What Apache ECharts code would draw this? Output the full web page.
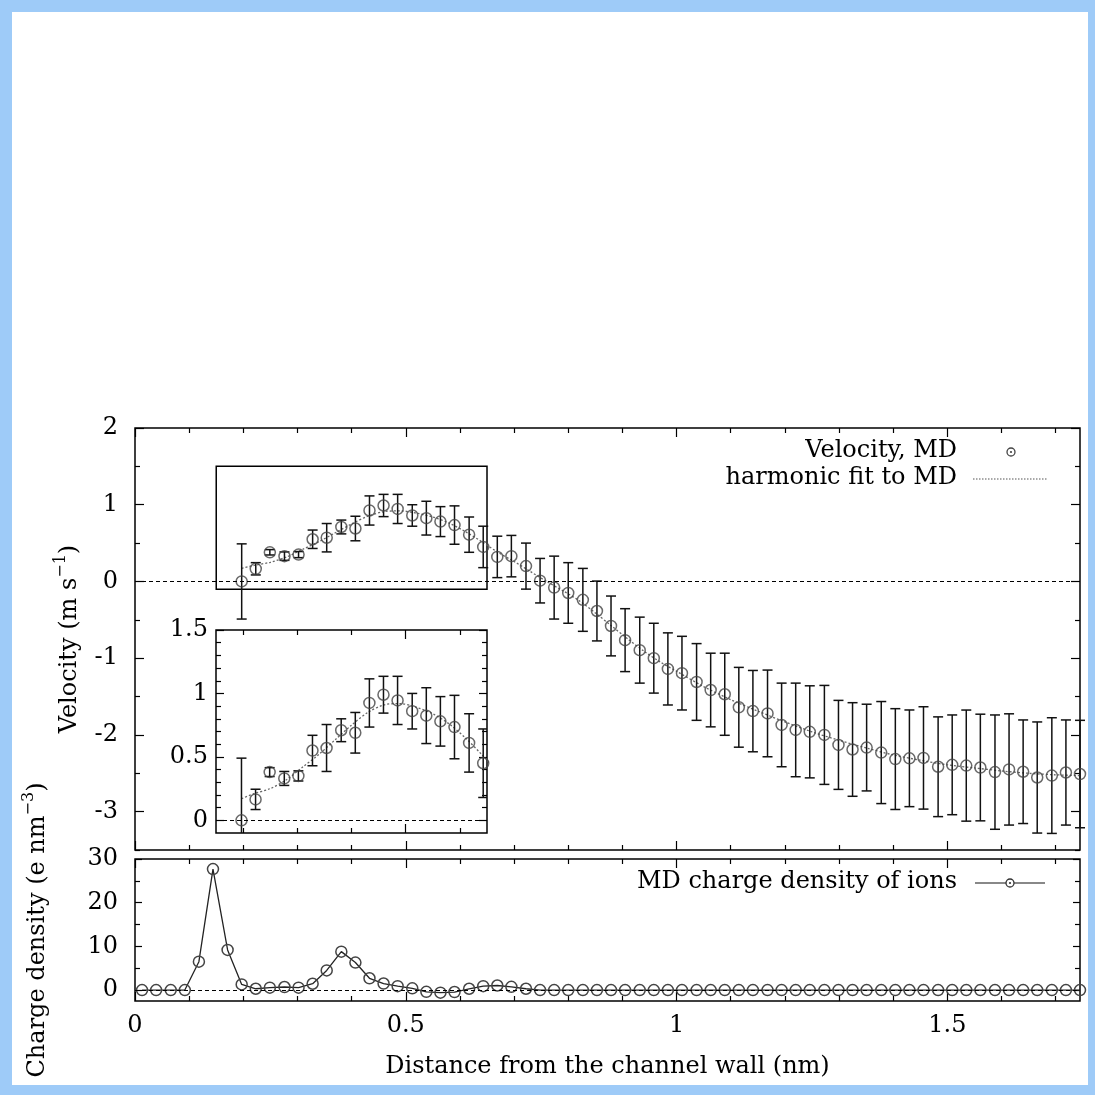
<!DOCTYPE html>
<html>
<head>
<meta charset="utf-8">
<script src="https://cdn.jsdelivr.net/npm/echarts@6/dist/echarts.min.js"></script>
<style>
  html, body { margin: 0; padding: 0; background: #9ecbf8; }
  #panel { position: absolute; left: 12px; top: 12px; width: 1076px; height: 1073px; background: #fff; }
  #chart { position: absolute; left: 0; top: 0; width: 1095px; height: 1095px; }
</style>
</head>
<body>
<div id="panel"></div>
<div id="chart"></div>
<script>
// bin centres (nm) shared by both panels
var binX = [0.013, 0.039, 0.066, 0.092, 0.118, 0.144, 0.171, 0.197, 0.223, 0.249,
  0.276, 0.302, 0.328, 0.354, 0.381, 0.407, 0.433, 0.459, 0.485, 0.512,
  0.538, 0.564, 0.590, 0.617, 0.643, 0.669, 0.695, 0.722, 0.748, 0.774,
  0.800, 0.827, 0.853, 0.879, 0.905, 0.932, 0.958, 0.984, 1.010, 1.037,
  1.063, 1.089, 1.115, 1.141, 1.168, 1.194, 1.220, 1.246, 1.273, 1.299,
  1.325, 1.351, 1.378, 1.404, 1.430, 1.456, 1.483, 1.509, 1.535, 1.561,
  1.588, 1.614, 1.640, 1.666, 1.693, 1.719, 1.745]
// velocity starts at bin 7
var velStart = 7
var velocity = [0.00, 0.165, 0.38, 0.33, 0.35, 0.55, 0.57, 0.71, 0.69, 0.925,
  0.99, 0.945, 0.86, 0.825, 0.78, 0.735, 0.61, 0.45, 0.32, 0.33,
  0.20, 0.01, -0.08, -0.15, -0.24, -0.385, -0.58, -0.765, -0.895, -1.0,
  -1.14, -1.195, -1.31, -1.415, -1.47, -1.64, -1.69, -1.72, -1.87, -1.935,
  -1.96, -2.00, -2.13, -2.19, -2.165, -2.23, -2.315, -2.305, -2.30, -2.415,
  -2.39, -2.40, -2.425, -2.485, -2.45, -2.48, -2.555, -2.53, -2.49, -2.51]
var velErr = [0.49, 0.08, 0.035, 0.055, 0.04, 0.12, 0.185, 0.09, 0.16, 0.19,
  0.145, 0.19, 0.14, 0.22, 0.195, 0.25, 0.23, 0.27, 0.27, 0.27,
  0.30, 0.29, 0.41, 0.395, 0.41, 0.39, 0.39, 0.41, 0.43, 0.455,
  0.47, 0.48, 0.50, 0.48, 0.535, 0.52, 0.53, 0.565, 0.545, 0.61,
  0.60, 0.645, 0.58, 0.61, 0.565, 0.665, 0.657, 0.63, 0.667, 0.65,
  0.65, 0.724, 0.695, 0.745, 0.725, 0.675, 0.724, 0.754, 0.685, 0.70]
// harmonic fit curve
var fitX = [0.197, 0.22, 0.25, 0.28, 0.31, 0.34, 0.37, 0.40, 0.43, 0.46,
  0.49, 0.52, 0.55, 0.58, 0.61, 0.64, 0.67, 0.70, 0.73, 0.76,
  0.79, 0.82, 0.85, 0.88, 0.91, 0.94, 0.97, 1.00, 1.05, 1.10,
  1.15, 1.20, 1.25, 1.30, 1.35, 1.40, 1.45, 1.50, 1.55, 1.60,
  1.65, 1.70, 1.745]
var fitY = [0.17, 0.21, 0.25, 0.32, 0.42, 0.52, 0.635, 0.75, 0.85, 0.91,
  0.92, 0.89, 0.84, 0.76, 0.65, 0.52, 0.38, 0.26, 0.13, 0.0,
  -0.12, -0.25, -0.41, -0.58, -0.75, -0.91, -1.05, -1.17, -1.37, -1.54,
  -1.69, -1.83, -1.96, -2.07, -2.17, -2.26, -2.33, -2.39, -2.43, -2.47,
  -2.50, -2.52, -2.53]
// charge density of ions
var charge = [0, 0, 0, 0, 6.5, 27.7, 9.2, 1.3, 0.3, 0.55,
  0.7, 0.55, 1.45, 4.5, 8.8, 6.3, 2.7, 1.5, 0.9, 0.4,
  -0.4, -0.6, -0.45, 0.3, 0.9, 1.05, 0.75, 0.3, 0, 0,
  0, 0, 0, 0, 0, 0, 0, 0, 0, 0,
  0, 0, 0, 0, 0, 0, 0, 0, 0, 0,
  0, 0, 0, 0, 0, 0, 0, 0, 0, 0,
  0, 0, 0, 0, 0, 0, 0]

// axis ranges and ticks
var xRange = [0, 1.745]
var velRange = [-3.5, 2]
var chgRange = [-2.5, 30]
var insetX = [0.15, 0.65]
var insetY = [-0.1, 1.5]
var xMajor = [0, 0.5, 1, 1.5]
var xMinor = [0.1, 0.2, 0.3, 0.4, 0.6, 0.7, 0.8, 0.9, 1.1, 1.2, 1.3, 1.4, 1.6, 1.7]
var velMajor = [-3, -2, -1, 0, 1, 2]
var velMinor = [-3.5, -2.5, -1.5, -0.5, 0.5, 1.5]
var insXMajor = [0.5]
var insXMinor = [0.2, 0.3, 0.4, 0.6]
var insYMajor = [0, 0.5, 1, 1.5]
var insYMinor = [0.1, 0.2, 0.3, 0.4, 0.6, 0.7, 0.8, 0.9, 1.1, 1.2, 1.3, 1.4]
var chgMajor = [0, 10, 20, 30]
var chgMinor = [5, 15, 25]

var FONT = 'DejaVu Serif'
var FSIZE = 24
var chart = echarts.init(document.getElementById('chart'))

function edgeAxis(grid, pos, range, ticks, len, labels, margin) {
  return {
    type: 'value',
    gridIndex: grid,
    position: pos,
    min: range[0],
    max: range[1],
    axisLine: { show: false, onZero: false },
    splitLine: { show: false },
    axisTick: {
      show: true, inside: true, length: len, customValues: ticks,
      lineStyle: { color: '#000', width: 1.2 }
    },
    axisLabel: labels ? {
      show: true, customValues: labels, margin: margin,
      fontFamily: FONT, fontSize: FSIZE, color: '#000',
      formatter: function (v) { return String(v) }
    } : { show: false }
  }
}

var xAxes = [
  edgeAxis(0, 'bottom', xRange, xMajor, 9),
  edgeAxis(0, 'bottom', xRange, xMinor, 5),
  edgeAxis(0, 'top', xRange, xMajor, 9),
  edgeAxis(0, 'top', xRange, xMinor, 5),
  edgeAxis(1, 'bottom', insetX, insXMajor, 9),
  edgeAxis(1, 'bottom', insetX, insXMinor, 5),
  edgeAxis(1, 'top', insetX, insXMajor, 9),
  edgeAxis(1, 'top', insetX, insXMinor, 5),
  edgeAxis(2, 'bottom', xRange, xMajor, 9, xMajor, 13),
  edgeAxis(2, 'bottom', xRange, xMinor, 5),
  edgeAxis(2, 'top', xRange, xMajor, 9),
  edgeAxis(2, 'top', xRange, xMinor, 5)
]
var yAxes = [
  edgeAxis(0, 'left', velRange, velMajor, 9, velMajor, 17),
  edgeAxis(0, 'left', velRange, velMinor, 5),
  edgeAxis(0, 'right', velRange, velMajor, 9),
  edgeAxis(0, 'right', velRange, velMinor, 5),
  edgeAxis(1, 'left', insetY, insYMajor, 8, insYMajor, 8),
  edgeAxis(1, 'left', insetY, insYMinor, 5),
  edgeAxis(1, 'right', insetY, insYMajor, 8),
  edgeAxis(1, 'right', insetY, insYMinor, 5),
  edgeAxis(2, 'left', chgRange, chgMajor, 7, chgMajor, 17),
  edgeAxis(2, 'left', chgRange, chgMinor, 5),
  edgeAxis(2, 'right', chgRange, chgMajor, 7),
  edgeAxis(2, 'right', chgRange, chgMinor, 5)
]

var nameStyle = {
  fontFamily: FONT, fontSize: FSIZE, color: '#000',
  rich: { sup: { fontFamily: FONT, fontSize: 16, color: '#000', padding: [0, 0, 18, 0] } }
}
xAxes[8].name = 'Distance from the channel wall (nm)'
xAxes[8].nameLocation = 'middle'
xAxes[8].nameGap = 54
xAxes[8].nameTextStyle = nameStyle
yAxes[0].name = 'Velocity (m s{sup|\u22121})'
yAxes[0].nameLocation = 'middle'
yAxes[0].nameRotate = 90
yAxes[0].nameGap = 48
yAxes[0].nameTextStyle = nameStyle
yAxes[8].name = 'Charge density (e nm{sup|\u22123})'
yAxes[8].nameLocation = 'middle'
yAxes[8].nameRotate = 90
yAxes[8].nameGap = 80
yAxes[8].nameTextStyle = nameStyle

// build series data from the arrays
var velPts = [], errPts = [], insPts = [], insErr = []
velocity.forEach(function (v, k) {
  var x = binX[velStart + k]
  velPts.push([x, v])
  errPts.push([x, v - velErr[k], v + velErr[k]])
  if (x <= insetX[1]) {
    insPts.push([x, v])
    insErr.push([x, v - velErr[k], v + velErr[k]])
  }
})
var fitPts = fitX.map(function (x, k) { return [x, fitY[k]] })
var chgPts = charge.map(function (c, k) { return [binX[k], c] })

function renderErr(params, api) {
  var x = api.value(0)
  var lo = api.coord([x, api.value(1)])
  var hi = api.coord([x, api.value(2)])
  var w = 5
  var st = { stroke: '#111', lineWidth: 1.5 }
  return {
    type: 'group',
    children: [
      { type: 'line', shape: { x1: lo[0], y1: lo[1], x2: hi[0], y2: hi[1] }, style: st },
      { type: 'line', shape: { x1: lo[0] - w, y1: lo[1], x2: lo[0] + w, y2: lo[1] }, style: st },
      { type: 'line', shape: { x1: hi[0] - w, y1: hi[1], x2: hi[0] + w, y2: hi[1] }, style: st }
    ]
  }
}

var circleStyle = { color: 'rgba(0,0,0,0)', borderColor: '#444', borderWidth: 1.5 }
var zeroLine = {
  silent: true, symbol: 'none', label: { show: false },
  lineStyle: { color: '#000', type: [4, 3], width: 1 },
  data: [{ yAxis: 0 }]
}
var fitStyle = { color: '#666', width: 1.3, type: [2, 2] }
var legendFont = FSIZE + 'px "DejaVu Serif"'

var option = {
  animation: false,
  backgroundColor: 'transparent',
  grid: [
    { left: 135, top: 428, width: 945, height: 422, show: true, borderColor: '#000', borderWidth: 1.5, backgroundColor: 'transparent' },
    { left: 216, top: 630, width: 271, height: 203, show: true, borderColor: '#000', borderWidth: 1.5, backgroundColor: '#fff' },
    { left: 135, top: 859, width: 945, height: 142, show: true, borderColor: '#000', borderWidth: 1.5, backgroundColor: 'transparent' }
  ],
  xAxis: xAxes,
  yAxis: yAxes,
  series: [
    // main velocity panel
    {
      type: 'line', xAxisIndex: 0, yAxisIndex: 0, data: fitPts, smooth: 0.3,
      showSymbol: false, lineStyle: fitStyle, z: 2, silent: true,
      markLine: zeroLine,
      markArea: {
        silent: true,
        itemStyle: { color: 'rgba(0,0,0,0)', borderColor: '#000', borderWidth: 1.5 },
        data: [[{ coord: [insetX[0], insetY[0]] }, { coord: [insetX[1], insetY[1]] }]]
      }
    },
    { type: 'custom', xAxisIndex: 0, yAxisIndex: 0, data: errPts, renderItem: renderErr, clip: false, z: 3, silent: true },
    {
      type: 'scatter', xAxisIndex: 0, yAxisIndex: 0, data: velPts, symbol: 'circle',
      symbolSize: 11, itemStyle: circleStyle, clip: false, z: 4, silent: true
    },
    // inset
    {
      type: 'line', xAxisIndex: 4, yAxisIndex: 4, data: fitPts, smooth: 0.3,
      showSymbol: false, lineStyle: fitStyle, z: 2, silent: true, clip: true,
      markLine: zeroLine
    },
    { type: 'custom', xAxisIndex: 4, yAxisIndex: 4, data: insErr, renderItem: renderErr, clip: true, z: 3, silent: true },
    {
      type: 'scatter', xAxisIndex: 4, yAxisIndex: 4, data: insPts, symbol: 'circle',
      symbolSize: 11, itemStyle: circleStyle, clip: false, z: 4, silent: true
    },
    // charge density
    {
      type: 'line', xAxisIndex: 8, yAxisIndex: 8, data: chgPts,
      symbol: 'circle', symbolSize: 11, showAllSymbol: true,
      itemStyle: circleStyle,
      lineStyle: { color: '#222', width: 1.3 }, clip: false, silent: true, z: 3,
      markLine: zeroLine
    }
  ],
  graphic: [
    { type: 'text', x: 957, y: 451, style: { text: 'Velocity, MD', font: legendFont, fill: '#000', align: 'right', verticalAlign: 'middle' } },
    { type: 'circle', shape: { cx: 1011, cy: 452, r: 4 }, style: { fill: 'none', stroke: '#444', lineWidth: 1.3 } },
    { type: 'circle', shape: { cx: 1011, cy: 452, r: 1.1 }, style: { fill: '#444' } },
    { type: 'text', x: 957, y: 478, style: { text: 'harmonic fit to MD', font: legendFont, fill: '#000', align: 'right', verticalAlign: 'middle' } },
    { type: 'line', shape: { x1: 973, y1: 479, x2: 1047, y2: 479 }, style: { stroke: '#555', lineWidth: 1.2, lineDash: [1.5, 1.5] } },
    { type: 'text', x: 957, y: 882, style: { text: 'MD charge density of ions', font: legendFont, fill: '#000', align: 'right', verticalAlign: 'middle' } },
    { type: 'line', shape: { x1: 975, y1: 883, x2: 1045, y2: 883 }, style: { stroke: '#888', lineWidth: 2 } },
    { type: 'circle', shape: { cx: 1010, cy: 883, r: 4 }, style: { fill: '#fff', stroke: '#333', lineWidth: 1.3 } },
    { type: 'circle', shape: { cx: 1010, cy: 883, r: 1.1 }, style: { fill: '#333' } }
  ]
}
chart.setOption(option)
</script>
</body>
</html>
